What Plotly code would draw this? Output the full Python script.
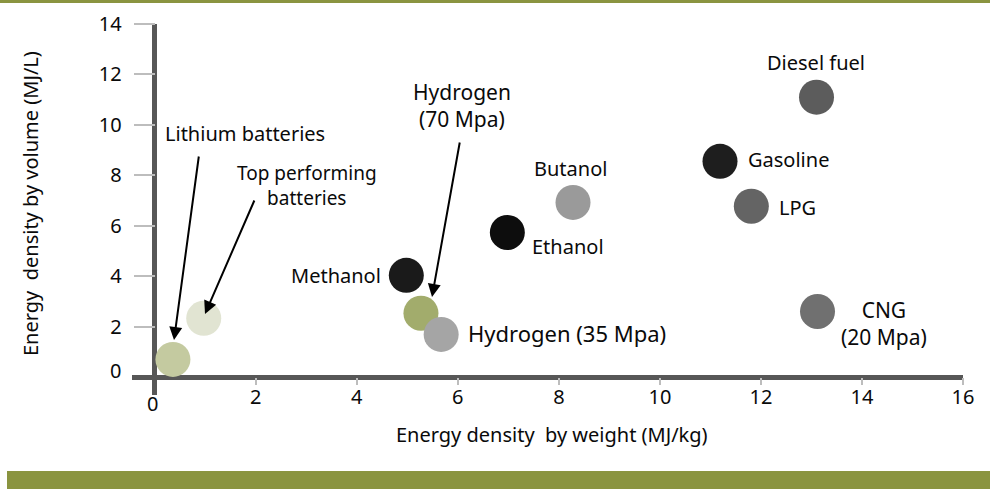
import plotly.graph_objects as go

# ---- data ----
fuels = ["Lithium batteries", "Top performing batteries", "Methanol", "Hydrogen (70 Mpa)",
         "Hydrogen (35 Mpa)", "Ethanol", "Butanol", "Diesel fuel", "Gasoline", "LPG", "CNG (20 Mpa)"]
energy_by_weight = [0.36, 0.97, 4.98, 5.27, 5.67, 6.98, 8.28, 13.10, 11.19, 11.81, 13.12]
energy_by_volume = [0.71, 2.34, 4.04, 2.54, 1.70, 5.74, 6.93, 11.10, 8.56, 6.78, 2.61]
marker_colors = ["#c4caa0", "#e1e4d2", "#1a1a1a", "#a2ac6c", "#a5a5a5", "#0d0d0d",
                 "#9a9a9a", "#5c5c5c", "#1e1e1e", "#646464", "#707070"]

x_tickvals = [2, 4, 6, 8, 10, 12, 14, 16]
y_tickvals = [2, 4, 6, 8, 10, 12, 14]

# ---- geometry ----
W, H = 990, 489
ML, MR, MT, MB = 132, 27, 24, 94
XR = [-0.45, 16]
YR = [-0.7, 14]
PW, PH = W - ML - MR, H - MT - MB

def px_x(px):
    return XR[0] + (px - ML) / PW * (XR[1] - XR[0])

def px_y(py):
    return YR[0] + (H - MB - py) / PH * (YR[1] - YR[0])

def paper_x(px):
    return (px - ML) / PW

def paper_y(py):
    return (H - MB - py) / PH

FONT = "Noto Sans"
GREEN = "#8a9440"
TXT = "#0a0a0a"

fig = go.Figure()
fig.add_trace(go.Scatter(
    x=energy_by_weight, y=energy_by_volume, mode="markers",
    marker=dict(size=35, color=marker_colors, line=dict(width=0)),
    text=fuels, hoverinfo="text", showlegend=False, cliponaxis=False,
))

ann = []
def label(txt, px, py, xa="center", size=20):
    ann.append(dict(text=txt, x=paper_x(px), y=paper_y(py), xref="paper", yref="paper",
                    xanchor=xa, yanchor="middle", showarrow=False, align="center",
                    font=dict(family=FONT, size=size, color=TXT)))

label("Diesel fuel", 816, 62)
label("Gasoline", 746, 160, "left")
label("LPG", 777, 207, "left")
label("Butanol", 570, 168)
label("Ethanol", 530, 247, "left")
label("Hydrogen<br>(70 Mpa)", 462, 106, size=21)
label("Methanol", 383, 275, "right")
label("Lithium batteries", 245, 133)
label("Top performing<br>batteries", 307, 185, size=19)
label("Hydrogen (35 Mpa)", 466, 333, "left", size=22)
label("CNG<br>(20 Mpa)", 884, 323, size=21)

def arrow(tail, head):
    ann.append(dict(text="", x=px_x(head[0]), y=px_y(head[1]), ax=px_x(tail[0]), ay=px_y(tail[1]),
                    xref="x", yref="y", axref="x", ayref="y", showarrow=True,
                    arrowhead=2, arrowsize=1.3, arrowwidth=2, arrowcolor="#000", standoff=0))

arrow((199, 155), (174, 340))
arrow((255, 199), (205, 314))
arrow((460, 141), (432, 297))

# zero labels and axis titles
label("0", 123, 370, "right")
label("0", 152, 403)
label("Energy density\u00a0\u00a0by weight (MJ/kg)", 552, 434)
ann.append(dict(text="Energy\u00a0\u00a0density by volume (MJ/L)", x=paper_x(30), y=paper_y(204),
                xref="paper", yref="paper", xanchor="center", yanchor="middle", showarrow=False,
                textangle=-90, font=dict(family=FONT, size=20, color=TXT)))

shapes = [
    dict(type="rect", xref="paper", yref="paper", x0=paper_x(0), x1=paper_x(990),
         y0=paper_y(3), y1=paper_y(0), fillcolor=GREEN, line=dict(width=0), layer="below"),
    dict(type="rect", xref="paper", yref="paper", x0=paper_x(7), x1=paper_x(990),
         y0=paper_y(489), y1=paper_y(471), fillcolor=GREEN, line=dict(width=0), layer="below"),
]

fig.update_layout(
    width=W, height=H, margin=dict(l=ML, r=MR, t=MT, b=MB, autoexpand=False),
    paper_bgcolor="white", plot_bgcolor="white",
    font=dict(family=FONT, size=20, color=TXT),
    annotations=ann, shapes=shapes,
    xaxis=dict(range=XR, anchor="free", position=(0 - YR[0]) / (YR[1] - YR[0]),
               showgrid=False, showline=False, zeroline=True, zerolinecolor="#575757", zerolinewidth=4.5,
               tickmode="array", tickvals=x_tickvals, ticks="outside", ticklen=7, tickwidth=2,
               tickcolor="#bdbdbd", tickfont=dict(family=FONT, size=20, color=TXT),
               ticklabelstandoff=-5, fixedrange=True),
    yaxis=dict(range=YR, anchor="free", position=(0 - XR[0]) / (XR[1] - XR[0]),
               showgrid=False, showline=False, zeroline=True, zerolinecolor="#575757", zerolinewidth=4.5,
               tickmode="array", tickvals=y_tickvals, ticks="outside", ticklen=21, tickwidth=2,
               tickcolor="#bdbdbd", tickfont=dict(family=FONT, size=20, color=TXT),
               ticklabelstandoff=8, fixedrange=True),
)

fig.write_html("out.html", config={"displayModeBar": False},
               post_script="document.body.style.margin='0';")
